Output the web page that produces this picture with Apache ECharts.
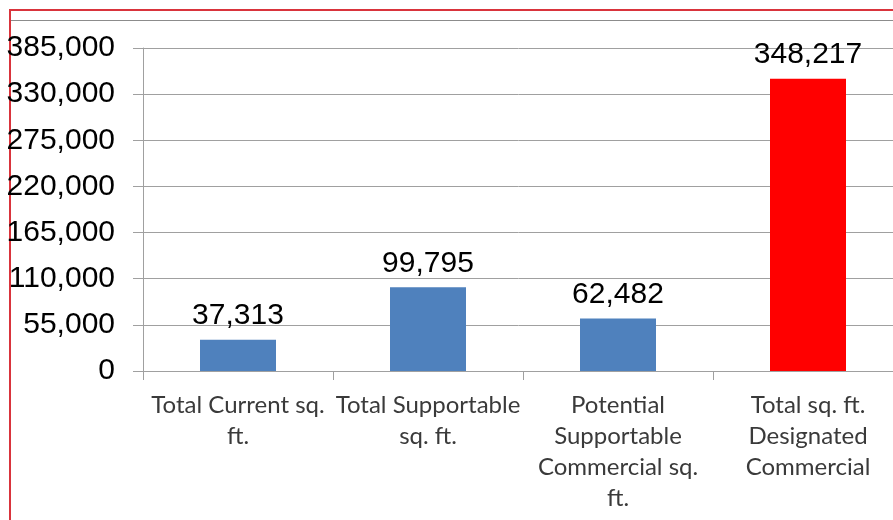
<!DOCTYPE html>
<html>
<head>
<meta charset="utf-8">
<script src="https://cdn.jsdelivr.net/npm/echarts@6/dist/echarts.min.js"></script>
<style>
  html, body { margin: 0; padding: 0; background: #ffffff; }
  #chart { width: 893px; height: 520px; }
</style>
</head>
<body>
<div id="chart"></div>
<script>
// Category labels (line breaks as drawn under each bar)
const categories = [
  'Total Current sq.\nft.',
  'Total Supportable\nsq. ft.',
  'Potential\nSupportable\nCommercial sq.\nft.',
  'Total sq. ft.\nDesignated\nCommercial'
];
// Square footage per category
const squareFeet = [37313, 99795, 62482, 348217];
// Bar fill per category
const barColors = ['#4f81bd', '#4f81bd', '#4f81bd', '#ff0000'];
// Value axis range
const axisMin = 0;
const axisMax = 385000;
const axisStep = 55000;

const chart = echarts.init(document.getElementById('chart'), null, { renderer: 'canvas' });

chart.setOption({
  backgroundColor: '#ffffff',
  animation: false,
  // plot area runs slightly past the right edge of the canvas
  grid: { left: 143, top: 48, width: 760, height: 323, containLabel: false, outerBoundsMode: 'none' },
  graphic: [
    { type: 'line', shape: { x1: 10, y1: 10, x2: 893, y2: 10 }, style: { stroke: '#d9343c', lineWidth: 2 } },
    { type: 'line', shape: { x1: 10, y1: 9, x2: 10, y2: 520 }, style: { stroke: '#d9343c', lineWidth: 2 } },
    { type: 'line', shape: { x1: 11, y1: 20.5, x2: 893, y2: 20.5 }, style: { stroke: '#8c8c8c', lineWidth: 1 } }
  ],
  xAxis: {
    type: 'category',
    data: categories,
    axisLine: { show: true, lineStyle: { color: '#a0a0a0', width: 1 } },
    axisTick: { show: true, alignWithLabel: false, length: 9, lineStyle: { color: '#a0a0a0' } },
    axisLabel: {
      interval: 0,
      margin: 19,
      color: '#3a3a3a',
      fontFamily: 'Lato',
      fontSize: 24,
      lineHeight: 31
    }
  },
  yAxis: {
    type: 'value',
    min: axisMin,
    max: axisMax,
    interval: axisStep,
    axisLine: { show: true, lineStyle: { color: '#a0a0a0', width: 1 } },
    axisTick: { show: true, inside: false, length: 10, lineStyle: { color: '#a0a0a0' } },
    splitLine: { show: true, lineStyle: { color: '#a0a0a0', width: 1 } },
    axisLabel: {
      margin: 28,
      color: '#000000',
      fontFamily: 'Liberation Sans',
      fontSize: 30,
      formatter: v => v.toLocaleString('en-US')
    }
  },
  series: [{
    type: 'bar',
    barWidth: '40%',
    data: squareFeet.map((v, i) => ({ value: v, itemStyle: { color: barColors[i] } })),
    label: {
      show: true,
      position: 'top',
      distance: 9,
      color: '#000000',
      fontFamily: 'Liberation Sans',
      fontSize: 30,
      formatter: p => p.value.toLocaleString('en-US')
    }
  }]
});
</script>
</body>
</html>
